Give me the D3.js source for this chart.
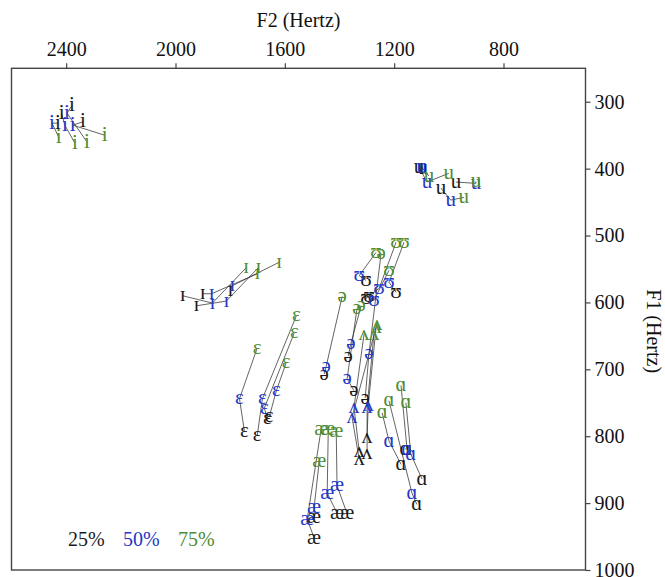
<!DOCTYPE html>
<html><head><meta charset="utf-8">
<script src="https://cdn.jsdelivr.net/npm/d3@7"></script>
<style>body{margin:0;background:#fff} svg{display:block}</style>
</head><body>
<svg id="chart" width="665" height="577"></svg>
<script>
// ---- data ----
const xTicks = [2400, 2000, 1600, 1200, 800];
const yTicks = [300, 400, 500, 600, 700, 800, 900, 1000];
const legendLabels = ["25%", "50%", "75%"];
const seriesColors = ["#1a1a1a", "#2438c4", "#4f8c32"];

const tokenVowels = [
  "i","i","i","i",
  "u","u","u","u",
  "ɪ","ɪ","ɪ","ɪ",
  "ɛ","ɛ","ɛ","ɛ",
  "æ","æ","æ","æ",
  "ɑ","ɑ","ɑ","ɑ",
  "ʌ","ʌ","ʌ","ʌ",
  "ə","ə","ə","ə",
  "ʊ","ʊ","ʊ","ʊ"
];
// 25% point of each token
const f2_25 = [2430,2416,2379,2339, 1109,1095,974,1029, 1974,1923,1901,1799, 1748,1701,1664,1657, 1493,1493,1409,1372, 1175,1098,1117,1160, 1328,1299,1328,1299, 1456,1368,1347,1306, 1303,1193,1303,1292];
const f1_25 = [332,318,306,330, 398,399,420,429, 590,605,587,582, 792,799,774,771, 952,922,915,916, 842,864,902,819, 822,825,834,802, 707,680,732,743, 567,585,594,591];
// 50% point
const f2_50 = [2452,2405,2397,2376, 1080,1099,901,993, 1865,1814,1868,1792, 1766,1682,1675,1631, 1518,1493,1445,1409, 1219,1139,1135,1153, 1347,1299,1354,1295, 1449,1358,1372,1292, 1328,1219,1255,1274];
const f1_50 = [332,335,317,335, 420,398,422,447, 601,598,587,575, 744,744,758,732, 924,907,885,874, 807,827,885,819, 757,757,772,754, 696,661,714,676, 560,570,579,597];
// 75% point
const f2_75 = [2427,2368,2324,2259, 1000,1073,901,945, 1741,1697,1700,1621, 1701,1558,1565,1595, 1467,1474,1441,1412, 1244,1157,1219,1175, 1310,1274,1263,1266, 1390,1321,1336,1248, 1266,1164,1193,1219];
const f1_75 = [353,362,360,350, 407,411,419,443, 548,548,557,540, 668,620,645,690, 789,837,789,792, 765,750,747,724, 647,647,632,637, 591,605,609,527, 525,510,510,552];

// ---- chart ----
const svg = d3.select("#chart");
const FONT = "'Liberation Serif','Times New Roman',serif";

const x = d3.scaleLinear().domain([2600, 500]).range([11.5, 585.5]);
const y = d3.scaleLinear().domain([250, 1000]).range([68.3, 570]);

const tokens = tokenVowels.map((v, i) => ({
  v,
  pts: [[f2_25[i], f1_25[i]], [f2_50[i], f1_50[i]], [f2_75[i], f1_75[i]]]
}));

// frame
svg.append("rect")
  .attr("x", x.range()[0]).attr("y", y.range()[0])
  .attr("width", x.range()[1] - x.range()[0])
  .attr("height", y.range()[1] - y.range()[0])
  .attr("fill", "none").attr("stroke", "#444").attr("stroke-width", 1.4);

// x axis on top
const gx = svg.append("g")
  .attr("transform", `translate(0,${y.range()[0]})`)
  .call(d3.axisTop(x).tickValues(xTicks).tickSize(5).tickPadding(7).tickFormat(d3.format("d")));
gx.select(".domain").remove();
gx.selectAll("line").attr("stroke", "#444").attr("stroke-width", 1.2);
gx.selectAll("text").attr("font-family", FONT).attr("font-size", 20).attr("fill", "#111");

// y axis on right
const gy = svg.append("g")
  .attr("transform", `translate(${x.range()[1]},0)`)
  .call(d3.axisRight(y).tickValues(yTicks).tickSize(5).tickPadding(4).tickFormat(d3.format("d")));
gy.select(".domain").remove();
gy.selectAll("line").attr("stroke", "#444").attr("stroke-width", 1.2);
gy.selectAll("text").attr("font-family", FONT).attr("font-size", 20).attr("fill", "#111");

// axis titles
svg.append("text")
  .attr("x", (x.range()[0] + x.range()[1]) / 2).attr("y", 27)
  .attr("text-anchor", "middle")
  .attr("font-family", FONT).attr("font-size", 20).attr("fill", "#111")
  .text("F2 (Hertz)");
svg.append("text")
  .attr("transform", `translate(654,${(y.range()[0] + y.range()[1]) / 2 + 12}) rotate(90)`)
  .attr("text-anchor", "middle").attr("dominant-baseline", "central")
  .attr("font-family", FONT).attr("font-size", 20).attr("fill", "#111")
  .text("F1 (Hertz)");

// trajectories
const line = d3.line().x(d => x(d[0])).y(d => y(d[1]));
svg.append("g").selectAll("path").data(tokens).join("path")
  .attr("d", d => line(d.pts))
  .attr("fill", "none").attr("stroke", "#333").attr("stroke-width", 0.9).attr("opacity", 0.85);

// vowel symbols
[0, 1, 2].forEach(k => {
  svg.append("g").selectAll("text").data(tokens).join("text")
    .attr("x", d => x(d.pts[k][0]))
    .attr("y", d => y(d.pts[k][1]))
    .attr("dy", "0.27em")
    .attr("text-anchor", "middle")
    .attr("font-family", FONT).attr("font-size", 21)
    .attr("fill", seriesColors[k])
    .text(d => d.v);
});

// legend
const legendX = [68, 123, 178];
svg.append("g").selectAll("text").data(legendLabels).join("text")
  .attr("x", (d, i) => legendX[i]).attr("y", 546)
  .attr("font-family", FONT).attr("font-size", 20)
  .attr("fill", (d, i) => seriesColors[i])
  .text(d => d);
</script>
</body></html>
